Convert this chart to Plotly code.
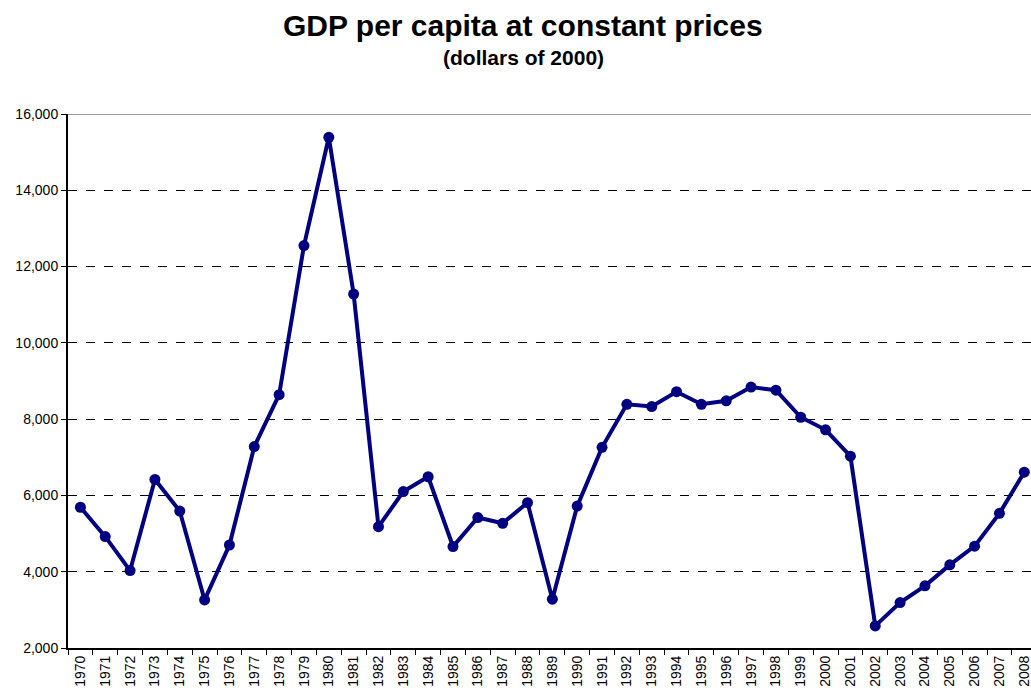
import plotly.graph_objects as go

years = [str(y) for y in range(1970, 2009)]
gdp = [5690, 4920, 4030, 6420, 5590, 3260, 4700, 7280, 8640, 12550,
       15390, 11280, 5180, 6100, 6490, 4660, 5420, 5270, 5810, 3280,
       5720, 7260, 8390, 8330, 8720, 8390, 8480, 8840, 8760, 8050,
       7720, 7030, 2580, 3190, 3630, 4180, 4670, 5530, 6610]

fig = go.Figure()
fig.add_trace(go.Scatter(x=years, y=gdp, mode="lines+markers",
                         line=dict(color="#000080", width=4),
                         marker=dict(color="#000080", size=11),
                         cliponaxis=False))

# titles as annotations so they don't push the plot area around
fig.add_annotation(text="<b>GDP per capita at constant prices</b>",
                   xref="paper", yref="paper", x=0.4725, y=1.0,
                   yanchor="middle", yshift=89, showarrow=False,
                   font=dict(size=30))
fig.add_annotation(text="<b>(dollars of 2000)</b>",
                   xref="paper", yref="paper", x=0.4725, y=1.0,
                   yanchor="middle", yshift=57, showarrow=False,
                   font=dict(size=21))

# grey top border of the plot area
fig.add_shape(type="line", xref="paper", x0=0, x1=1, yref="y",
              y0=16000, y1=16000, line=dict(color="#999999", width=2),
              layer="below")

fig.update_layout(
    width=1031, height=692,
    margin=dict(l=68, r=0, t=114, b=44),
    paper_bgcolor="white", plot_bgcolor="white",
    showlegend=False,
    font=dict(family="Liberation Sans, Arial", color="black"),
)
fig.update_xaxes(type="category", range=[-0.5, 38.27], automargin=False,
                 tickangle=-90, tickfont=dict(size=14),
                 tickson="boundaries", ticks="outside", ticklen=5,
                 tickcolor="black", showline=True, linecolor="black",
                 linewidth=2, showgrid=False)
fig.update_yaxes(range=[2000, 16000], dtick=2000, tickformat=",",
                 automargin=False,
                 tickfont=dict(size=14), ticks="outside", ticklen=5,
                 tickcolor="black", showline=True, linecolor="black",
                 linewidth=2, showgrid=True, gridcolor="black",
                 griddash="dash", gridwidth=1, zeroline=False)

# drop the default page margin so the figure fills the window
fig.write_html("out.html", config={"displayModeBar": False},
               post_script="document.body.style.margin='0';document.body.style.overflow='hidden';")
